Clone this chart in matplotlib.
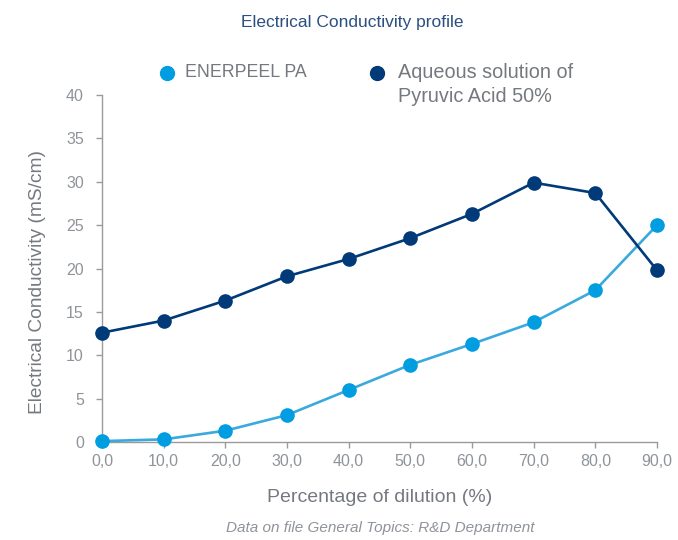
import matplotlib
matplotlib.use("Agg")
import matplotlib.pyplot as plt
from matplotlib.lines import Line2D

# dilution levels (%) and conductivity readings (mS/cm)
dilution = [0, 10, 20, 30, 40, 50, 60, 70, 80, 90]
tick_labels = ["0,0", "10,0", "20,0", "30,0", "40,0", "50,0", "60,0", "70,0", "80,0", "90,0"]
enerpeel = [0.1, 0.3, 1.3, 3.1, 6.0, 8.9, 11.3, 13.8, 17.5, 25.0]
pyruvic = [12.6, 14.0, 16.3, 19.1, 21.1, 23.5, 26.3, 29.9, 28.7, 19.8]
y_ticks = [0, 5, 10, 15, 20, 25, 30, 35, 40]

LIGHT = "#009ee0"
LIGHT_LINE = "#3aa9dd"
DARK = "#003a78"
GREY = "#8f949a"
AXIS = "#9a9a9a"
TEXT = "#75797f"

plt.rcParams["font.family"] = ["Liberation Sans", "DejaVu Sans"]

fig = plt.figure(figsize=(6.78, 5.4), dpi=100)
ax = fig.add_axes([0.1504, 0.1815, 0.8186, 0.6425])

ax.plot(dilution, enerpeel, color=LIGHT_LINE, lw=1.9, marker="o", ms=9.5,
        mfc=LIGHT, mec=LIGHT, zorder=3, clip_on=False)
ax.plot(dilution, pyruvic, color=DARK, lw=1.9, marker="o", ms=9.5,
        mfc=DARK, mec=DARK, zorder=4, clip_on=False)

ax.set_xlim(0, 90)
ax.set_ylim(0, 40)
ax.set_xticks(dilution)
ax.set_xticklabels(tick_labels)
ax.set_yticks(y_ticks)

for side in ["top", "right"]:
    ax.spines[side].set_visible(False)
for side in ["left", "bottom"]:
    ax.spines[side].set_color(AXIS)
    ax.spines[side].set_linewidth(1.0)
ax.tick_params(colors=AXIS, labelcolor=GREY, labelsize=11.5, length=4, width=1.0)
ax.tick_params(axis="x", pad=5)
ax.tick_params(axis="y", pad=9)

ax.set_xlabel("Percentage of dilution (%)", fontsize=14, color=TEXT, labelpad=14)
ax.set_ylabel("Electrical Conductivity (mS/cm)", fontsize=13.8, color=TEXT)
ax.yaxis.set_label_coords(-0.1, 0.46)

fig.text(0.52, 0.958, "Electrical Conductivity profile", ha="center", va="center",
         fontsize=12.5, color="#2b4f80")

# legend drawn by hand so the marker sits on the first line of the two-line label
fig.add_artist(Line2D([0.246], [0.865], marker="o", ms=10, color=LIGHT, transform=fig.transFigure))
fig.text(0.273, 0.865, "ENERPEEL PA", ha="left", va="center", fontsize=12.8, color=TEXT)
fig.add_artist(Line2D([0.556], [0.865], marker="o", ms=10, color=DARK, transform=fig.transFigure))
fig.text(0.587, 0.865, "Aqueous solution of", ha="left", va="center", fontsize=14.3, color=TEXT)
fig.text(0.587, 0.822, "Pyruvic Acid 50%", ha="left", va="center", fontsize=14.3, color=TEXT)

fig.text(0.561, 0.022, "Data on file General Topics: R&D Department", ha="center", va="center",
         fontsize=11, style="italic", color=GREY)

fig.savefig("out.png", dpi=100)
